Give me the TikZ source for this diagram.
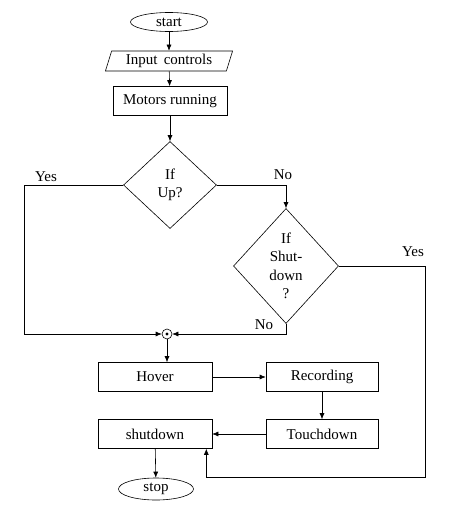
\documentclass[tikz,border=0pt]{standalone}
\usepackage{fontspec}
\setmainfont{Liberation Serif}
\usepackage{tikz}
\usetikzlibrary{
    arrows.meta,
    shapes.geometric
}

\begin{document}
\begin{tikzpicture}[x=1pt,y=-1pt,line width=0.6pt,
    font=\fontsize{15}{18.5}\selectfont,
    arr/.style={-{Latex[length=6pt,width=5pt]}},
    term/.style={draw,ellipse,inner sep=0pt},
    box/.style={draw,rectangle,minimum width=114pt,minimum height=29pt,inner sep=0pt},
    decide/.style={draw,diamond,inner sep=0pt,align=center}]

\useasboundingbox (0,0) rectangle (450,514);

% Start and input
\node[term,minimum width=77pt,minimum height=19pt] (start) at (169,22) {start};
\node[draw,trapezium,trapezium left angle=71,trapezium right angle=109,
      trapezium stretches=true,minimum width=128pt,minimum height=20pt,
      inner sep=0pt] (input) at (169,61) {Input\, controls};
\node[box] (motors) at (170,101) {Motors running};

% Decisions
\node[decide,minimum width=93pt,minimum height=87pt] (up) at (170,185) {If\\Up?};
\node[decide,minimum width=105pt,minimum height=115pt] (shut) at (286,266) {If\\Shut-\\down\\?};

% Junction
\node[draw,circle,minimum size=10pt,inner sep=0pt] (join) at (167,334) {};
\fill (join) circle (1.6pt);

% Process boxes
\node[box] (hover) at (155,377) {Hover};
\node[box,minimum width=112pt] (rec) at (322,377) {Recording};
\node[box,minimum width=112pt] (touch) at (322,434) {Touchdown};
\node[box] (sd) at (155,434) {shutdown};
\node[term,minimum width=75pt,minimum height=22pt] (stop) at (156,489) {stop};

% Corners
\coordinate (yesleft) at (24,185);
\coordinate (yesright) at (425,266);
\coordinate (back) at (425,477);

% Flow
\draw[arr] (start) -- (input);
\draw[arr] (input) -- (motors);
\draw[arr] (motors) -- (up);
\draw[arr] (up.west) -- (yesleft) |- (join);
\draw[arr] (up.east) -| (shut.north);
\draw[arr] (shut.south) |- (join);
\draw[arr] (shut.east) -- (yesright) -- (back) -| ([xshift=-6pt]sd.south east);
\draw[arr] (join) -- (join |- hover.north);
\draw[arr] (hover) -- (rec);
\draw[arr] (rec) -- (touch);
\draw[arr] (touch) -- (sd);
\draw[arr] (sd) -- (stop);

% Labels
\node (lyes1) at (46,177) {Yes};
\node (lno1) at (283,175) {No};
\node (lyes2) at (413,252) {Yes};
\node (lno2) at (264,325) {No};

\end{tikzpicture}
\end{document}
